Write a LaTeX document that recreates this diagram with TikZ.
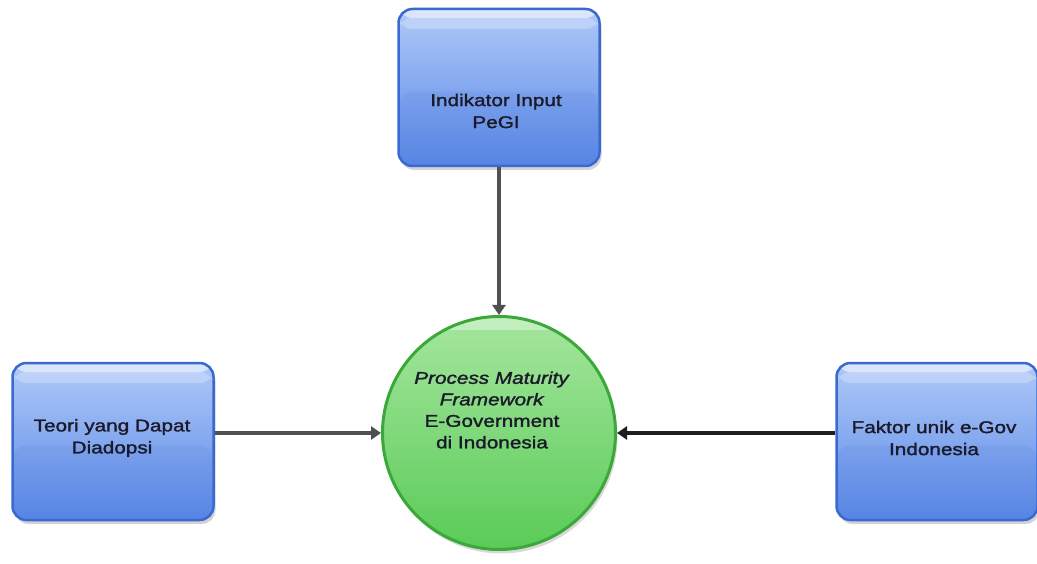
\documentclass[tikz,border=0pt]{standalone}
\usepackage{fontspec}
\newfontfamily\lab[FakeStretch=1.22,FakeBold=1.6]{Liberation Sans}
\usetikzlibrary{arrows.meta,shadows}
\definecolor{boxtop}{HTML}{AFC9F8}
\definecolor{boxbot}{HTML}{5A88E6}
\definecolor{boxline}{HTML}{3A69D2}
\definecolor{cirtop}{HTML}{A5E69E}
\definecolor{cirbot}{HTML}{5ACB57}
\definecolor{cirline}{HTML}{3BA83A}
\definecolor{arrgray}{HTML}{505050}
\definecolor{arrdark}{HTML}{1E1E1E}
\definecolor{txt}{HTML}{1A1A2A}
\tikzset{
  bluebox/.style={draw=boxline, line width=2.5pt, rounded corners=14pt,
    minimum width=201pt, minimum height=157pt, inner sep=0pt,
    top color=boxtop, bottom color=boxbot,
    drop shadow={shadow xshift=2pt, shadow yshift=-4pt, opacity=0.35},
    path picture={
      \fill[white,opacity=0.55] (path picture bounding box.north west) rectangle ([yshift=-9pt]path picture bounding box.north east);
      \fill[white,opacity=0.25] ([yshift=-9pt]path picture bounding box.north west) rectangle ([yshift=-20pt]path picture bounding box.north east);
      \fill[boxline,opacity=0.10] ([yshift=-4pt]path picture bounding box.west) rectangle (path picture bounding box.south east);
    }},
  greencircle/.style={circle, draw=cirline, line width=3pt, minimum size=233pt, inner sep=0pt,
    top color=cirtop, bottom color=cirbot,
    drop shadow={shadow xshift=2pt, shadow yshift=-4pt, opacity=0.3},
    path picture={
      \fill[white,opacity=0.35] ([yshift=-2pt]path picture bounding box.north west) rectangle ([yshift=-14pt]path picture bounding box.north east);
    }},
  lbl/.style={font=\lab\fontsize{17}{22}\selectfont, text=txt, align=center, inner sep=0pt},
  conn/.style={line width=4pt, -{Triangle[length=10pt,width=13pt]}},
}
\begin{document}
\begin{tikzpicture}[x=1pt,y=-1pt]
\useasboundingbox (0,0) rectangle (1037,564);
% boxes
\node[bluebox] (top) at (499,87.5) {};
\node[bluebox] (left) at (113,441.5) {};
\node[bluebox] (right) at (937,441.5) {};
\node[greencircle] (core) at (499,433) {};
% texts
\node[lbl] (topT) at (496,111) {Indikator Input\\PeGI};
\node[lbl] (leftT) at (112,438) {Teori yang Dapat\\Diadopsi};
\node[lbl] (rightT) at (934,438) {Faktor unik e-Gov\\Indonesia};
\node[lbl, font=\lab\fontsize{17}{21.5}\selectfont] (coreT) at (492,410) {\textit{Process Maturity}\\\textit{Framework}\\E-Government\\di Indonesia};
% connectors
\draw[conn, arrgray] (top.south) -- (core.north);
\draw[conn, arrgray] (left.east |- core.west) -- (core.west);
\draw[conn, arrdark] (right.west |- core.east) -- (core.east);
\end{tikzpicture}
\end{document}
